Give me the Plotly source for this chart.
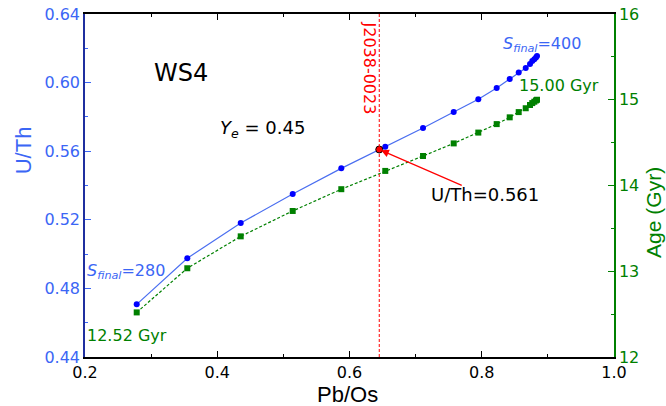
import plotly.graph_objects as go

pb_os = [0.2782, 0.3547, 0.4355, 0.5141, 0.5876, 0.6541, 0.7112, 0.7576, 0.7948,
         0.8226, 0.8423, 0.8559, 0.8665, 0.8730, 0.8764, 0.8795, 0.8820, 0.8836]
u_th = [0.4707, 0.4976, 0.5181, 0.5350, 0.5500, 0.5626, 0.5735, 0.5829, 0.5903,
        0.5969, 0.6021, 0.6059, 0.6085, 0.6108, 0.6126, 0.6136, 0.6146, 0.6155]
age_gyr = [12.52, 13.035, 13.407, 13.703, 13.957, 14.170, 14.344, 14.491, 14.617,
           14.716, 14.795, 14.856, 14.901, 14.939, 14.961, 14.977, 14.992, 15.00]
star_pb_os = 0.645
star_u_th = 0.561

BLUE_TXT = "#3b66f5"
BLUE_LINE = "#4a6ef0"
GREEN = "#008000"
FONT = "DejaVu Sans"

fig = go.Figure()
fig.add_trace(go.Scatter(x=pb_os, y=u_th, mode="lines+markers",
                         line=dict(color=BLUE_LINE, width=1.2),
                         marker=dict(color="#0000ff", size=6, symbol="circle"),
                         showlegend=False, yaxis="y", hoverinfo="skip"))
fig.add_trace(go.Scatter(x=pb_os, y=age_gyr, mode="lines+markers",
                         line=dict(color=GREEN, width=1.2, dash="3px,2px"),
                         marker=dict(color=GREEN, size=6, symbol="square"),
                         showlegend=False, yaxis="y2", hoverinfo="skip"))
fig.add_trace(go.Scatter(x=[star_pb_os], y=[star_u_th], mode="markers",
                         marker=dict(color="red", size=7, line=dict(color="black", width=1)),
                         showlegend=False, yaxis="y", hoverinfo="skip"))

fig.add_shape(type="line", xref="x", yref="paper", x0=star_pb_os, x1=star_pb_os, y0=0, y1=1,
              line=dict(color="red", width=1, dash="3px,2px"))

C = dict(xanchor="center", yanchor="middle", showarrow=False)
anns = [
    dict(x=0.345, y=0.6056, xref="x", yref="y", text="WS4",
         font=dict(size=24, color="black", family=FONT), **C),
    dict(x=0.4677, y=0.5729, xref="x", yref="y", text="<i>Y</i><sub><i>e</i></sub> = 0.45",
         font=dict(size=18, color="black", family=FONT), **C),
    dict(x=0.6303, y=0.6085, xref="x", yref="y", text="J2038-0023", textangle=90,
         font=dict(size=16, color="red", family=FONT), **C),
    dict(x=0.8907, y=0.6225, xref="x", yref="y", text="<i>S</i><sub><i>final</i></sub>=400",
         font=dict(size=16, color=BLUE_TXT, family=FONT), **C),
    dict(x=0.9168, y=0.5986, xref="x", yref="y", text="15.00 Gyr",
         font=dict(size=16, color=GREEN, family=FONT), **C),
    dict(x=0.2625, y=0.4896, xref="x", yref="y", text="<i>S</i><sub><i>final</i></sub>=280",
         font=dict(size=16, color=BLUE_TXT, family=FONT), **C),
    dict(x=0.2635, y=0.4528, xref="x", yref="y", text="12.52 Gyr",
         font=dict(size=16, color=GREEN, family=FONT), **C),
    dict(x=0.805, y=0.5345, xref="x", yref="y", text="U/Th=0.561",
         font=dict(size=18, color="black", family=FONT), **C),
    dict(x=star_pb_os, y=star_u_th, xref="x", yref="y", ax=0.772, ay=0.5397,
         axref="x", ayref="y", text="", showarrow=True, arrowhead=2, arrowsize=1.3,
         arrowwidth=1.2, arrowcolor="red", standoff=2),
    dict(x=-0.117, y=0.603, xref="paper", yref="paper", text="U/Th", textangle=-90,
         font=dict(size=22, color=BLUE_TXT, family="Liberation Sans"), **C),
    dict(x=0.497, y=-0.11, xref="paper", yref="paper", text="Pb/Os",
         font=dict(size=22, color="black", family="Liberation Sans"), **C),
    dict(x=1.0735, y=0.4227, xref="paper", yref="paper", text="Age (Gyr)", textangle=-90,
         font=dict(size=21, color=GREEN, family="Liberation Sans"), **C),
]

fig.update_layout(
    template="none",
    annotations=anns,
    width=666, height=406,
    margin=dict(l=85, r=52, t=14, b=49, pad=0),
    plot_bgcolor="white", paper_bgcolor="white",
    font=dict(family=FONT, size=16),
    showlegend=False,
    xaxis=dict(range=[0.2, 1.0], tickvals=[0.2, 0.4, 0.6, 0.8, 1.0], tickformat=".1f",
               ticks="inside", ticklen=6, tickwidth=1.3, tickcolor="black",
               showline=True, linecolor="black", linewidth=1.5, mirror="ticks",
               showgrid=False, zeroline=False, tickfont=dict(size=16, color="black"),
               ticklabeloverflow="allow", automargin=False,
               minor=dict(ticks="inside", ticklen=3.5, tickwidth=1, tickcolor="black",
                          dtick=0.1, showgrid=False)),
    yaxis=dict(range=[0.44, 0.64], tickvals=[0.44, 0.48, 0.52, 0.56, 0.60, 0.64],
               tickformat=".2f", ticks="inside", ticklen=6, tickwidth=1.3,
               tickcolor=BLUE_TXT, showline=True, linecolor="#1f2f9f", linewidth=1.5,
               showgrid=False, zeroline=False, tickfont=dict(size=16, color=BLUE_TXT),
               ticklabeloverflow="allow", automargin=False,
               minor=dict(ticks="inside", ticklen=3.5, tickwidth=1, tickcolor=BLUE_TXT,
                          dtick=0.02, showgrid=False)),
    yaxis2=dict(range=[12, 16], tickvals=[12, 13, 14, 15, 16], overlaying="y", side="right",
                anchor="x", ticks="inside", ticklen=6, tickwidth=1.3, tickcolor=GREEN,
                showline=True, linecolor=GREEN, linewidth=1.5, showgrid=False,
                zeroline=False, tickfont=dict(size=16, color=GREEN),
                ticklabeloverflow="allow", automargin=False,
                minor=dict(ticks="inside", ticklen=3.5, tickwidth=1, tickcolor=GREEN,
                           dtick=0.5, showgrid=False)),
)

fig.write_html("out.html", config={"displayModeBar": False},
               post_script="document.body.style.margin='0px';document.body.style.overflow='hidden';")
